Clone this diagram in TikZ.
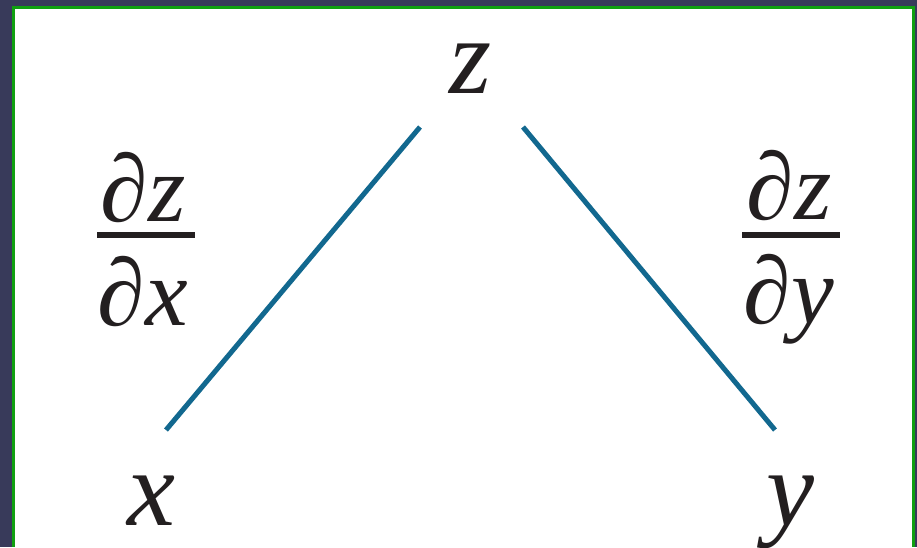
\documentclass[tikz,border=0pt]{standalone}
\usepackage{fontspec}
\setmainfont{Liberation Serif}
\definecolor{bgnavy}{HTML}{383A5A}
\definecolor{frgreen}{HTML}{10A010}
\definecolor{edgeblue}{HTML}{12688F}
\definecolor{ink}{HTML}{231F20}
\begin{document}
\begin{tikzpicture}[x=1pt,y=-1pt,
  lbl/.style={inner sep=0pt, anchor=base, text=ink, font=\fontsize{108}{120}\selectfont\itshape},
  frac/.style={inner sep=0pt, anchor=base, text=ink, font=\fontsize{96}{110}\selectfont\itshape},
  edge/.style={draw=edgeblue, line width=5pt},
  bar/.style={draw=ink, line width=5.5pt}]
\useasboundingbox (0,0) rectangle (917,547);
\fill[bgnavy] (0,0) rectangle (917,547);
\fill[frgreen] (12,6) rectangle (915,547);
\fill[white] (15,9) rectangle (912,547);
% main variables
\node[lbl] (z) at (471,93) {z};
\node[lbl] (x) at (151,525) {x};
\node[lbl] (y) at (790,525) {y};
% connectors
\coordinate (zl) at (420,127);
\coordinate (zr) at (523,127);
\coordinate (xe) at (166,430);
\coordinate (ye) at (775,430);
\draw[edge] (zl) -- (xe);
\draw[edge] (zr) -- (ye);
% left fraction
\node[frac] (ln) at (143,221) {∂z};
\node[frac] (ld) at (143,325) {∂x};
\coordinate (lb1) at (97,235);
\coordinate (lb2) at (195,235);
\draw[bar] (lb1) -- (lb2);
% right fraction
\node[frac] (rn) at (789,219) {∂z};
\node[frac] (rd) at (789,323) {∂y};
\coordinate (rb1) at (742,235);
\coordinate (rb2) at (840,235);
\draw[bar] (rb1) -- (rb2);
\end{tikzpicture}
\end{document}
